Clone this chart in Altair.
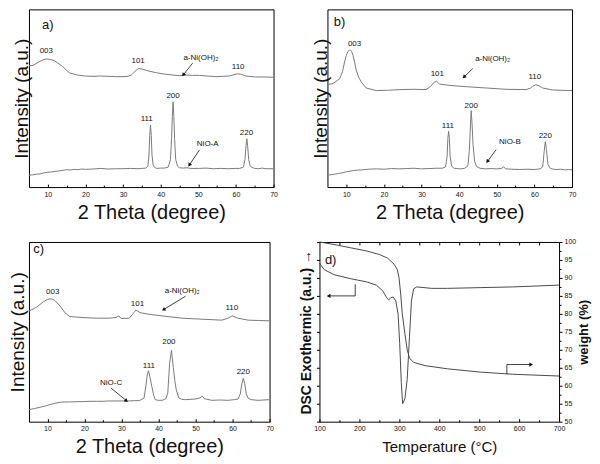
import math
import altair as alt
import pandas as pd

FONT = "Liberation Sans"
CURVE = "#7a7a7a"
DARK = "#4a4a4a"
INK = "#111111"

XRD_TICKS = [10, 20, 30, 40, 50, 60, 70]
XRD_MINOR = [15, 25, 35, 45, 55, 65]

# ---------------- panel a ----------------
A_TOP_X = [5, 6.1, 7.5, 8.7, 9.6, 10.5, 11.7, 12.6, 13.9, 14.8, 15.7, 17.9, 20, 22, 24, 26, 28.3, 30, 31.4, 32.2,
           32.8, 33.5, 34.1, 35, 36.3, 38.9, 41, 43.3, 45, 46.8, 48.5, 50.3, 52.5, 54.7, 56.5, 58.2, 59.4, 60.4,
           61.5, 62.6, 65.2, 67.5, 70]
A_TOP_Y = [377, 378, 388, 395, 398, 397, 393, 386, 375, 365, 355, 348, 345, 344, 345, 344, 343, 343, 344, 348,
           355, 363, 368, 367, 362, 355, 351, 348, 346, 348, 347, 347, 345, 343, 344, 345, 349, 352,
           350, 345, 342, 342, 341]
A_BOT_X = [5, 6, 7, 8, 9, 10, 11, 12, 13, 14, 15, 16, 17, 18, 19, 20, 22, 24, 26, 28, 30, 32, 34, 35, 36,
           36.6, 36.9, 37.1, 37.3, 37.5, 37.7, 38.0, 38.5, 39, 40, 41, 42, 42.6, 42.9, 43.1, 43.3, 43.5, 43.7,
           44.0, 44.5, 45, 46, 47, 48, 50, 52, 54, 56, 58, 60, 61, 62, 62.4, 62.7, 62.9, 63.1, 63.4, 63.8,
           64.5, 65, 66, 67, 68, 70]
A_BOT_Y = [37, 38, 40, 41, 44, 46, 47, 49, 50, 52, 54, 53, 55, 54, 56, 55, 56, 58, 56, 57, 57, 58, 57, 58, 59,
           65, 100, 160, 193, 160, 100, 68, 60, 58, 59, 59, 62, 85, 150, 220, 265, 220, 150,
           85, 65, 60, 59, 60, 58, 58, 59, 57, 58, 57, 58, 58, 62, 85, 130, 150, 130, 85, 65,
           60, 58, 57, 59, 57, 57]
A_LAB_T = ["a)", "003", "101", "a-Ni(OH)₂", "110", "111", "200", "220", "NiO-A"]
A_LAB_X = [10, 9.6, 34, 50.7, 60.6, 36.3, 43.3, 62.8, 52.5]
A_LAB_Y = [505, 422, 392, 400, 372, 210, 283, 167, 133]
A_ARR_X = [[48.5, 46.1], [50.3, 47.7]]
A_ARR_Y = [[385, 350], [115, 70]]
A_YMAX = 552

# ---------------- panel b ----------------
B_TOP_X = [5, 6.5, 8.2, 9.0, 9.55, 10.0, 10.4, 10.8, 11.1, 11.4, 11.8, 12.2, 12.65, 13.3, 14, 15.3, 18, 21,
           24.1, 28, 31.2, 32.4, 33.4, 34.0, 34.8, 37.4, 41.9, 47.2, 52.5, 57.8, 59.0, 59.5, 60.4, 61.2, 62.2,
           64.8, 67, 70]
B_TOP_Y = [315, 319, 333, 355, 385, 405, 417, 421, 422, 418, 405, 385, 360, 338, 323, 305, 297, 298,
           300, 301, 300, 310, 323, 326, 317, 313, 309, 305, 301, 300, 305, 310, 315, 312, 305,
           299, 298, 297]
B_BOT_X = [5, 6, 7, 8, 9, 10, 11, 12, 13, 14, 15, 16, 18, 20, 22, 24, 26, 28, 30, 32, 34, 35.5, 36.4, 36.8,
           37.0, 37.2, 37.4, 37.6, 38.0, 38.6, 39.5, 40.5, 41.5, 42.3, 42.7, 43.0, 43.2, 43.4, 43.7, 44.1,
           44.6, 45.5, 47, 48.5, 50, 51.2, 51.8, 52.4, 54, 56, 58, 60, 61.5, 62.2, 62.6, 62.9, 63.2, 63.6,
           64.2, 65, 66, 67, 68, 69, 70]
B_BOT_Y = [37, 38, 40, 42, 44, 47, 49, 51, 52, 53, 54, 55, 56, 55, 57, 56, 57, 58, 56, 57, 58, 58, 62, 95,
           150, 172, 150, 95, 65, 58, 57, 56, 58, 65, 110, 190, 235, 200, 130, 80,
           64, 58, 56, 57, 56, 57, 62, 56, 55, 54, 55, 54, 56, 62, 110, 140, 115, 70,
           58, 55, 54, 55, 53, 54, 53]
B_LAB_T = ["b)", "003", "101", "a-Ni(OH)₂", "110", "111", "200", "220", "NiO-B"]
B_LAB_X = [8.2, 12.2, 34.2, 48.9, 60.1, 37.0, 43.2, 62.9, 53.5]
B_LAB_Y = [507, 440, 347, 395, 340, 187, 250, 157, 140]
B_ARR_X = [[43.6, 41.4], [49.8, 47.6]]
B_ARR_Y = [[365, 340], [115, 80]]
B_YMAX = 547

# ---------------- panel c ----------------
C_TOP_X = [5.1, 7.1, 8.9, 10.0, 10.7, 11.3, 12.0, 13.4, 14.7, 16.0, 19.6, 23.2, 26.7, 28.5, 29.3, 29.9, 32.1,
           33.0, 33.9, 35.0, 37.4, 41.0, 46.4, 51.7, 57.1, 58.8, 59.9, 61.5, 64.2, 67, 70]
C_TOP_Y = [337, 349, 365, 372, 374, 373, 369, 352, 332, 320, 317, 315, 315, 317, 322, 314, 315,
           327, 340, 332, 327, 322, 315, 312, 309, 315, 322, 315, 309, 308, 307]
C_BOT_X = [5.1, 6.5, 8.0, 9.5, 10.7, 12, 13.4, 14.5, 16, 18, 19.6, 21.5, 23.2, 25, 26.5, 28.5, 30.5, 32.1,
           33.5, 34.8, 36.1, 36.6, 37.0, 37.3, 37.7, 38.2, 38.7, 39.1, 40, 41.0, 42.0, 42.5, 43.0, 43.5,
           44.0, 44.4, 44.8, 45.5, 46.3, 47.3, 49.9, 51.2, 51.8, 52.4, 54.4, 56.5, 58.8, 60.5, 61.5, 62.1,
           62.5, 62.9, 63.3, 63.7, 64.2, 65.0, 66.9, 68.5, 70]
C_BOT_Y = [37, 40, 44, 48, 52, 56, 59, 60, 60, 61, 61, 62, 62, 62, 63, 63, 63, 63,
           64, 64, 72, 110, 145, 155, 135, 107, 80, 67, 65, 65, 70, 87, 177, 217,
           165, 125, 97, 72, 68, 67, 69, 72, 78, 70, 65, 66, 65, 67, 69, 85,
           115, 132, 115, 85, 72, 67, 65, 66, 67]
C_LAB_T = ["c)", "003", "101", "a-Ni(OH)₂", "110", "111", "200", "220", "NiO-C"]
C_LAB_X = [7.6, 11.4, 34.3, 46.4, 59.8, 37.4, 42.8, 62.9, 27.2]
C_LAB_Y = [527, 395, 359, 397, 345, 169, 242, 152, 119]
C_ARR_X = [[47.3, 41.5], [27.2, 31.2]]
C_ARR_Y = [[382, 342], [102, 65]]
C_YMAX = 547

# ---------------- panel d ----------------
D_TGA_T = [100, 136.6, 177.3, 218, 250.5, 270.7, 287, 295, 299.3, 303.4, 307.4, 314, 319.7, 325.4, 335.9,
           364.4, 421.2, 502.4, 583.9, 700]
D_TGA_W = [100, 99.3, 98.4, 97.5, 96.5, 95.5, 93.8, 92.3, 90, 85.5, 80, 74.5, 70, 67.7, 66.5,
           65.6, 64.7, 63.8, 63.2, 62.7]
D_DSC_T = [100, 112, 136.6, 177.3, 218, 242.4, 258.5, 268.3, 273.2, 279, 284.6, 291.2, 296.8, 300.9, 304.9,
           308.3, 314, 319.7, 325.4, 330.3, 335.9, 343.9, 380.5, 421.2, 502.4, 583.9, 700]
D_DSC_V = [94.1, 92.3, 90.9, 89.8, 88.9, 88.0, 86.4, 84.5, 83.9, 84.5, 84.7, 83.6, 80, 71.8, 60.9,
           55, 56.4, 61.8, 73.6, 83.6, 87, 87.5, 87.1, 87.1, 87.3, 87.5, 88]
D_TICKS = [100, 200, 300, 400, 500, 600, 700]
D_MINOR = [150, 250, 350, 450, 550, 650]
D_TOP = [150, 200, 250, 300, 350, 400, 450, 500, 550, 600, 650]
W_TICKS = [50, 55, 60, 65, 70, 75, 80, 85, 90, 95, 100]
W_MINOR = [52.5, 57.5, 62.5, 67.5, 72.5, 77.5, 82.5, 87.5, 92.5, 97.5]
D_LAB_T = ["d)"]
D_LAB_X = [128]
D_LAB_Y = [95]
D_ARR_X = [[189.5, 189.5, 124.4], [569.3, 569.3, 628.5]]
D_ARR_Y = [[88.2, 85, 85], [63.2, 65.9, 65.9]]

# ---------------- layout ----------------
W_A, W_B, H_TOP = 245, 245, 178
W_C, W_D, H_BOT = 241, 240, 180


def tick_axis(orient, offset, values, size):
    return alt.Axis(orient=orient, offset=offset, values=values, tickSize=size, ticks=True, labels=False,
                    domain=False, grid=False, title=None, tickColor="black", tickWidth=1)


def arrow_frames(arr_x, arr_y, kx, ky):
    rows, heads = [], []
    for i, (xs, ys) in enumerate(zip(arr_x, arr_y)):
        for j, (x, y) in enumerate(zip(xs, ys)):
            rows.append({"x": x, "y": y, "id": i, "o": j})
        dx = (xs[-1] - xs[-2]) * kx
        dy = -(ys[-1] - ys[-2]) * ky
        ang = math.degrees(math.atan2(dx, -dy)) % 360
        heads.append({"x": xs[-1], "y": ys[-1], "a": ang})
    return pd.DataFrame(rows), pd.DataFrame(heads)


def annotations(xs, ys, lab_t, lab_x, lab_y, arr_x, arr_y, kx, ky):
    lab = pd.DataFrame({"x": lab_x, "y": lab_y, "t": lab_t,
                        "fs": [13 if t.endswith(")") and len(t) == 2 else 8 for t in lab_t]})
    text = alt.Chart(lab).mark_text(color=INK, baseline="middle", align="center").encode(
        x=alt.X("x:Q", scale=xs, axis=None), y=alt.Y("y:Q", scale=ys, axis=None),
        text="t:N", size=alt.Size("fs:Q", scale=None, legend=None))
    adf, hdf = arrow_frames(arr_x, arr_y, kx, ky)
    shafts = alt.Chart(adf).mark_line(color=INK, strokeWidth=0.8).encode(
        x=alt.X("x:Q", scale=xs, axis=None), y=alt.Y("y:Q", scale=ys, axis=None),
        detail="id:N", order="o:Q")
    heads = alt.Chart(hdf).mark_point(shape="triangle", filled=True, size=18, color=INK, opacity=1).encode(
        x=alt.X("x:Q", scale=xs, axis=None), y=alt.Y("y:Q", scale=ys, axis=None),
        angle=alt.Angle("a:Q", scale=None))
    return [text, shafts, heads]


def xrd_panel(tx, ty, bx, by, ymax, lab_t, lab_x, lab_y, arr_x, arr_y, width, height, tpad):
    xs = alt.Scale(domain=[5, 70], nice=False, zero=False)
    ys = alt.Scale(domain=[0, ymax], nice=False, zero=False)
    curves = pd.DataFrame({"x": tx + bx, "y": ty + by, "s": ["top"] * len(tx) + ["bot"] * len(bx)})
    xax = alt.Axis(orient="bottom", values=XRD_TICKS, ticks=False, domain=False, grid=False,
                   labelFontSize=7, labelPadding=3, labelFlush=False, labelColor=INK,
                   title="2 Theta (degree)", titleFontSize=20, titleFontWeight="normal",
                   titlePadding=5, titleColor=INK)
    yax = alt.Axis(orient="left", labels=False, ticks=False, domain=False, grid=False, minExtent=0,
                   title="Intensity (a.u.)", titleFontSize=19, titleFontWeight="normal",
                   titlePadding=tpad, titleColor=INK)
    line = alt.Chart(curves).mark_line(color=CURVE, strokeWidth=1).encode(
        x=alt.X("x:Q", scale=xs, axis=xax), y=alt.Y("y:Q", scale=ys, axis=yax), detail="s:N")
    major = alt.Chart(curves).mark_line(opacity=0).encode(
        x=alt.X("x:Q", scale=xs, axis=tick_axis("top", -height, XRD_TICKS, 3)),
        y=alt.Y("y:Q", scale=ys, axis=None), detail="s:N")
    minor = alt.Chart(curves).mark_line(opacity=0).encode(
        x=alt.X("x:Q", scale=xs, axis=tick_axis("top", -height, XRD_MINOR, 2)),
        y=alt.Y("y:Q", scale=ys, axis=None), detail="s:N")
    ann = annotations(xs, ys, lab_t, lab_x, lab_y, arr_x, arr_y, width / 65.0, height / ymax)
    return alt.layer(line, major, minor, *ann).properties(width=width, height=height).resolve_scale(
        x="shared", y="shared").resolve_axis(x="independent", y="independent")


def tga_panel(width, height):
    xs = alt.Scale(domain=[100, 700], nice=False, zero=False)
    ys = alt.Scale(domain=[50, 100], nice=False, zero=False)
    tga = pd.DataFrame({"x": D_TGA_T, "y": D_TGA_W})
    dsc = pd.DataFrame({"x": D_DSC_T, "y": D_DSC_V})
    xax = alt.Axis(orient="bottom", values=D_TICKS, ticks=False, domain=False, grid=False,
                   labelFontSize=7, labelPadding=3, labelFlush=False, labelColor=INK,
                   title="Temperature (°C)", titleFontSize=15, titleFontWeight="normal",
                   titlePadding=8, titleColor=INK)
    rax = alt.Axis(orient="right", values=W_TICKS, tickSize=3, tickColor="black", labelFontSize=7,
                   labelPadding=2, labelColor=INK, domain=False, grid=False, minExtent=0,
                   title="weight (%)", titleFontSize=13, titleFontWeight="bold", titleAngle=270,
                   titleBaseline="top", titlePadding=2, titleColor=INK)
    lax = alt.Axis(orient="left", values=W_TICKS, tickSize=3, tickColor="black", labels=False,
                   domain=False, grid=False, minExtent=0,
                   title="DSC Exothermic (a.u.) →", titleFontSize=14, titleFontWeight="bold",
                   titlePadding=2, titleColor=INK)
    w_line = alt.Chart(tga).mark_line(color=DARK, strokeWidth=1).encode(
        x=alt.X("x:Q", scale=xs, axis=xax), y=alt.Y("y:Q", scale=ys, axis=rax))
    d_line = alt.Chart(dsc).mark_line(color=DARK, strokeWidth=1).encode(
        x=alt.X("x:Q", scale=xs, axis=None), y=alt.Y("y:Q", scale=ys, axis=lax))
    r_minor = alt.Chart(tga).mark_line(opacity=0).encode(
        x=alt.X("x:Q", scale=xs, axis=None),
        y=alt.Y("y:Q", scale=ys, axis=alt.Axis(orient="right", values=W_MINOR, tickSize=2, labels=False,
                                               domain=False, grid=False, title=None, minExtent=0,
                                               tickColor="black")))
    b_major = alt.Chart(tga).mark_line(opacity=0).encode(
        x=alt.X("x:Q", scale=xs, axis=tick_axis("top", -height, D_TICKS, 3)),
        y=alt.Y("y:Q", scale=ys, axis=None))
    b_minor = alt.Chart(tga).mark_line(opacity=0).encode(
        x=alt.X("x:Q", scale=xs, axis=tick_axis("top", -height, D_MINOR, 2)),
        y=alt.Y("y:Q", scale=ys, axis=None))
    t_ticks = alt.Chart(tga).mark_line(opacity=0).encode(
        x=alt.X("x:Q", scale=xs, axis=tick_axis("bottom", -height, D_TOP, 3)),
        y=alt.Y("y:Q", scale=ys, axis=None))
    ann = annotations(xs, ys, D_LAB_T, D_LAB_X, D_LAB_Y, D_ARR_X, D_ARR_Y, width / 600.0, height / 50.0)
    return alt.layer(w_line, d_line, r_minor, b_major, b_minor, t_ticks, *ann).properties(
        width=width, height=height).resolve_scale(x="shared", y="shared").resolve_axis(
        x="independent", y="independent")


pa = xrd_panel(A_TOP_X, A_TOP_Y, A_BOT_X, A_BOT_Y, A_YMAX, A_LAB_T, A_LAB_X, A_LAB_Y, A_ARR_X, A_ARR_Y,
               W_A, H_TOP, -3)
pb = xrd_panel(B_TOP_X, B_TOP_Y, B_BOT_X, B_BOT_Y, B_YMAX, B_LAB_T, B_LAB_X, B_LAB_Y, B_ARR_X, B_ARR_Y,
               W_B, H_TOP, -3)
pc = xrd_panel(C_TOP_X, C_TOP_Y, C_BOT_X, C_BOT_Y, C_YMAX, C_LAB_T, C_LAB_X, C_LAB_Y, C_ARR_X, C_ARR_Y,
               W_C, H_BOT, 1)
pd_ = tga_panel(W_D, H_BOT)

top = alt.hconcat(pa, pb, spacing=32)
bottom = alt.hconcat(pc, pd_, spacing=25)
chart = alt.vconcat(top, bottom, spacing=14).properties(padding=0).configure(font=FONT).configure_view(
    stroke="black", strokeWidth=1)

chart.save("out.html", embed_options={"renderer": "svg", "actions": False})
